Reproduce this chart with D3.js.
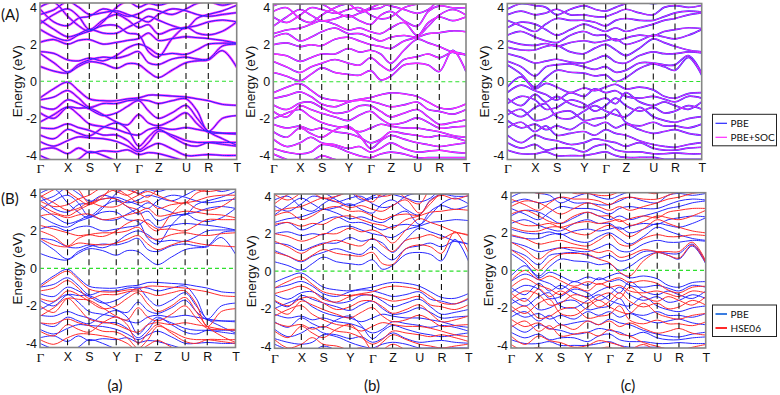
<!DOCTYPE html>
<html>
<head>
<meta charset="utf-8">
<script src="https://cdn.jsdelivr.net/npm/d3@7"></script>
<style>
body { margin: 0; background: #fff; }
</style>
</head>
<body>
<script>
// high symmetry path
var kLabels = ["Γ", "X", "S", "Y", "Γ", "Z", "U", "R", "T"];
var kDistA = [0, 27.7, 49.3, 76.7, 98.7, 118.3, 146, 168.3, 196.7];
var kDistB = [0, 26.7, 48.4, 75, 97.4, 117.4, 144, 166, 192.7];
var kDistC = [0, 27.7, 49.4, 76.7, 98.4, 118.4, 146, 167.7, 194.4];
var yTicks = [-4, -2, 0, 2, 4];

// bands, eV, sampled at each point of the path and half way between
// order: G . X . S . Y . G . Z . U . R . T
var pbeA = [
  [-0.9,-0.4,-0.05,-0.5,-0.95,-1.05,-1.05,-0.95,-0.9,-0.75,-0.75,-0.8,-0.85,-0.95,-1.05,-1.25,-1.3],
  [-1.0,-0.85,-0.5,-0.9,-1.4,-1.2,-1.2,-1.05,-1.0,-1.05,-1.2,-1.05,-0.95,-1.6,-2.7,-2.0,-1.85],
  [-1.35,-1.5,-1.0,-1.2,-1.5,-1.85,-1.7,-1.35,-1.05,-1.6,-2.0,-1.7,-1.3,-2.0,-2.7,-3.1,-3.45],
  [-1.7,-2.0,-1.4,-1.45,-1.45,-1.8,-2.2,-2.35,-1.8,-2.25,-2.4,-2.1,-1.7,-2.3,-2.75,-2.8,-2.8],
  [-2.2,-1.8,-1.4,-1.8,-2.3,-2.45,-2.6,-2.8,-2.9,-2.6,-2.5,-2.6,-2.5,-2.6,-2.7,-2.8,-2.85],
  [-2.5,-2.55,-2.3,-2.5,-2.65,-2.9,-2.9,-3.2,-3.7,-3.3,-2.7,-2.9,-3.2,-3.3,-3.3,-3.4,-3.5],
  [-2.9,-3.1,-2.6,-2.8,-2.95,-2.5,-2.25,-2.6,-3.5,-3.0,-2.6,-3.0,-3.4,-3.5,-3.3,-3.3,-3.3],
  [-3.25,-3.5,-3.2,-3.0,-3.05,-3.1,-3.25,-3.5,-3.8,-3.55,-3.35,-3.65,-4.0,-4.0,-3.95,-4.0,-4.0],
  [-3.7,-3.6,-3.9,-3.6,-3.85,-3.75,-3.8,-3.7,-3.95,-3.85,-3.9,-4.1,-4.3,-4.3,-4.3,-4.3,-4.3],
  [-4.0,-4.3,-4.4,-4.2,-3.8,-4.0,-4.3,-4.4,-4.3,-4.4,-4.4,-4.5,-4.5,-4.5,-4.5,-4.5,-4.5],
  [0.8,0.55,0.45,0.8,1.05,0.95,0.7,0.95,0.9,0.5,0.2,0.6,1.0,1.1,1.15,1.65,0.75],
  [1.5,1.0,0.5,0.9,1.15,1.3,1.25,1.4,1.6,1.0,0.9,1.2,1.3,1.2,1.2,1.9,2.0],
  [1.6,1.5,1.15,1.1,1.25,1.1,1.4,1.8,2.0,1.8,1.45,1.5,1.45,1.7,2.0,2.05,2.05],
  [2.1,2.25,2.0,2.2,2.25,2.0,2.1,2.2,2.3,2.6,2.2,2.3,2.4,2.35,2.3,2.2,2.05],
  [2.8,2.4,2.2,2.5,2.7,3.0,3.0,2.6,2.5,1.6,1.3,2.3,2.9,2.6,2.5,2.7,3.2],
  [3.1,3.6,3.9,3.5,2.8,3.3,3.6,3.3,2.9,3.05,2.55,2.8,2.9,3.0,3.2,3.3,3.2],
  [3.3,2.8,2.4,2.55,2.8,2.6,2.6,2.9,3.2,3.5,3.3,3.0,2.85,3.4,3.6,3.8,4.1],
  [3.6,3.85,4.3,4.0,3.6,3.7,3.8,3.6,3.4,3.2,3.6,3.9,3.8,3.6,3.5,3.6,3.7],
  [3.9,3.2,3.0,3.4,3.5,3.9,3.7,3.5,3.65,3.9,3.8,3.6,3.9,4.2,4.3,4.1,4.3],
  [4.0,4.25,3.5,3.0,2.7,3.2,4.0,4.3,4.0,4.2,4.1,4.3,4.5,4.5,4.5,4.4,4.5]
];
var hseA = [
  [-1.0,-0.5,-0.15,-0.6,-1.1,-1.25,-1.25,-1.15,-1.1,-0.95,-0.95,-1.0,-1.05,-1.15,-1.25,-1.45,-1.5],
  [-1.2,-1.05,-0.65,-1.05,-1.6,-1.4,-1.4,-1.25,-1.2,-1.3,-1.45,-1.3,-1.2,-1.9,-3.1,-2.3,-2.15],
  [-1.6,-1.75,-1.2,-1.4,-1.75,-2.15,-2.0,-1.6,-1.3,-1.9,-2.3,-2.0,-1.55,-2.3,-3.1,-3.6,-3.95],
  [-2.0,-2.35,-1.6,-1.65,-1.7,-2.1,-2.55,-2.75,-2.1,-2.6,-2.8,-2.45,-2.0,-2.65,-3.2,-3.25,-3.25],
  [-2.55,-2.1,-1.6,-2.1,-2.7,-2.85,-3.0,-3.25,-3.4,-3.0,-2.9,-3.0,-2.9,-3.0,-3.1,-3.25,-3.3],
  [-2.9,-2.95,-2.7,-2.9,-3.05,-3.35,-3.4,-3.7,-4.25,-3.8,-3.1,-3.35,-3.7,-3.8,-3.8,-3.9,-4.0],
  [-3.35,-3.6,-3.0,-3.25,-3.4,-2.9,-2.6,-3.0,-4.0,-3.45,-3.0,-3.45,-3.9,-4.0,-3.8,-3.8,-3.8],
  [-3.8,-4.05,-3.7,-3.5,-3.5,-3.6,-3.75,-4.0,-4.4,-4.1,-3.85,-4.2,-4.6,-4.6,-4.5,-4.6,-4.6],
  [1.6,1.25,1.15,1.35,1.3,1.25,1.35,1.55,1.75,1.3,1.0,1.25,1.45,1.35,1.25,1.2,1.15],
  [2.0,1.7,1.2,1.6,1.8,1.9,1.9,2.0,2.2,1.7,1.55,1.8,1.9,1.8,1.75,1.85,1.9],
  [2.3,2.1,1.9,1.75,1.8,1.7,2.0,2.4,2.6,2.4,2.1,2.1,2.0,2.3,2.6,2.6,2.6],
  [2.8,2.9,2.7,2.85,2.9,2.6,2.7,2.85,3.0,3.2,2.8,2.9,3.05,3.0,2.9,2.85,2.7],
  [3.4,3.0,2.8,3.1,3.4,3.7,3.7,3.3,3.1,2.3,2.0,2.9,3.5,3.2,3.1,3.3,3.8],
  [3.8,4.2,4.5,4.2,3.5,3.9,4.2,3.9,3.5,3.6,3.2,3.4,3.5,3.6,3.8,3.9,3.9],
  [3.9,3.5,3.1,3.2,3.5,3.3,3.3,3.6,3.9,4.1,3.9,3.6,3.5,4.0,4.2,4.4,4.6],
  [4.2,4.4,4.8,4.6,4.2,4.3,4.4,4.2,4.0,3.8,4.2,4.5,4.4,4.2,4.1,4.2,4.3],
  [3.6,3.3,3.4,3.7,3.9,4.3,4.1,3.9,4.2,4.4,4.4,4.2,4.5,4.7,4.8,4.7,4.8],
  [4.5,4.7,4.1,3.7,3.4,3.8,4.6,4.8,4.5,4.7,4.6,4.8,5.0,5.0,5.0,5.0,5.0]
];
var pbeB = [
  [-0.6,-0.3,-0.1,-0.45,-0.85,-1.0,-1.05,-0.95,-0.85,-0.7,-0.6,-0.65,-0.8,-1.1,-1.4,-1.45,-1.2],
  [-0.9,-0.75,-0.55,-0.8,-1.2,-1.35,-1.1,-1.0,-1.05,-1.2,-1.35,-1.25,-1.1,-1.5,-1.6,-1.75,-1.5],
  [-1.25,-1.5,-1.15,-1.1,-1.4,-1.7,-1.6,-1.3,-1.3,-1.6,-1.9,-1.7,-1.5,-1.9,-2.3,-2.2,-2.05],
  [-1.6,-1.9,-1.3,-1.5,-1.7,-1.9,-2.1,-1.8,-1.6,-2.0,-2.3,-2.2,-1.95,-2.2,-2.5,-2.45,-2.4],
  [-2.0,-1.7,-1.5,-1.9,-2.2,-2.4,-2.5,-2.7,-2.5,-2.3,-2.4,-2.5,-2.5,-2.6,-2.7,-2.9,-3.0],
  [-2.3,-2.5,-2.4,-2.6,-2.5,-2.7,-2.8,-3.0,-3.3,-3.1,-2.7,-2.8,-2.9,-3.0,-2.9,-3.0,-3.2],
  [-2.7,-3.0,-2.5,-2.8,-3.0,-2.6,-2.4,-2.9,-3.6,-3.2,-2.9,-3.1,-3.3,-3.4,-3.5,-3.4,-3.3],
  [-3.1,-3.5,-3.3,-3.0,-3.3,-3.4,-3.6,-3.5,-3.8,-3.6,-3.3,-3.6,-3.8,-3.75,-3.7,-3.8,-3.85],
  [-3.6,-3.8,-3.9,-3.8,-3.4,-3.5,-3.8,-4.0,-4.1,-3.9,-3.8,-3.9,-4.1,-4.1,-4.1,-4.1,-4.1],
  [-3.9,-4.2,-4.4,-4.3,-4.0,-4.2,-4.3,-4.3,-4.4,-4.4,-4.3,-4.4,-4.5,-4.5,-4.5,-4.5,-4.5],
  [0.5,0.3,0.05,0.4,0.75,0.5,0.4,0.35,0.6,0.1,0.3,0.9,1.0,0.9,0.55,1.7,0.55],
  [1.1,0.8,0.5,0.8,1.0,1.2,1.0,0.9,1.3,0.9,0.6,1.2,1.35,1.5,1.3,1.6,1.45],
  [1.5,1.4,1.1,1.3,1.5,1.5,1.8,1.6,1.7,1.5,1.0,1.7,2.3,2.1,1.9,1.6,1.45],
  [2.0,2.1,1.9,2.0,1.95,2.3,2.4,2.2,2.0,1.9,1.8,2.2,2.4,2.6,2.65,2.75,2.7],
  [2.4,2.6,2.2,2.4,2.7,2.9,2.6,2.6,2.4,2.2,2.4,2.5,2.45,3.2,3.5,3.3,3.5],
  [2.6,2.8,2.9,3.1,3.3,3.1,2.8,2.9,2.7,2.6,2.9,3.2,2.5,3.0,3.6,3.9,3.6],
  [3.0,3.5,3.9,3.6,3.3,3.4,3.6,3.3,3.1,3.6,3.8,3.3,3.0,3.8,4.1,4.0,4.0],
  [3.5,3.2,3.6,4.0,3.9,3.7,3.9,4.0,3.6,3.4,3.5,4.0,4.2,4.3,4.3,4.3,4.3],
  [3.8,4.0,3.4,3.2,3.6,4.0,4.2,3.8,4.0,4.2,4.1,3.9,3.7,3.9,4.4,4.5,4.4],
  [4.1,4.3,4.2,4.3,4.2,3.8,3.5,3.7,3.9,4.0,4.3,4.4,4.5,4.6,4.6,4.6,4.6]
];
var hseB = [
  [-0.9,-0.55,-0.3,-0.7,-1.1,-1.25,-1.3,-1.2,-1.1,-0.9,-0.8,-0.85,-1.0,-1.35,-1.7,-1.75,-1.45],
  [-1.2,-1.0,-0.8,-1.05,-1.5,-1.65,-1.35,-1.25,-1.3,-1.45,-1.6,-1.5,-1.35,-1.8,-1.9,-2.05,-1.8],
  [-1.55,-1.85,-1.45,-1.4,-1.7,-2.05,-1.9,-1.6,-1.6,-1.9,-2.25,-2.05,-1.8,-2.25,-2.7,-2.6,-2.4],
  [-1.95,-2.3,-1.6,-1.8,-2.05,-2.3,-2.5,-2.2,-1.95,-2.4,-2.7,-2.6,-2.35,-2.6,-2.95,-2.9,-2.85],
  [-2.4,-2.05,-1.85,-2.3,-2.6,-2.85,-2.95,-3.2,-2.95,-2.75,-2.85,-2.95,-2.95,-3.05,-3.2,-3.4,-3.5],
  [-2.75,-2.95,-2.85,-3.1,-2.95,-3.2,-3.3,-3.55,-3.9,-3.65,-3.2,-3.3,-3.4,-3.5,-3.4,-3.55,-3.75],
  [-3.2,-3.55,-2.95,-3.3,-3.55,-3.1,-2.85,-3.4,-4.2,-3.8,-3.4,-3.65,-3.9,-4.0,-4.1,-4.0,-3.9],
  [-3.65,-4.1,-3.9,-3.55,-3.9,-4.0,-4.2,-4.1,-4.4,-4.2,-3.9,-4.2,-4.4,-4.4,-4.3,-4.4,-4.5],
  [1.0,0.8,0.55,0.85,1.15,0.95,0.85,0.8,1.0,0.4,0.35,1.2,1.4,1.3,0.95,2.1,1.0],
  [1.6,1.3,0.95,1.25,1.45,1.65,1.45,1.35,1.75,1.35,1.05,1.65,1.8,1.95,1.75,2.05,1.9],
  [2.0,1.85,1.6,1.75,2.0,2.0,2.3,2.1,2.2,1.95,1.5,2.2,2.8,2.6,2.4,2.1,1.95],
  [2.5,2.6,2.4,2.55,2.5,2.85,2.95,2.75,2.55,2.45,2.3,2.75,2.95,3.15,3.2,3.3,3.25],
  [2.95,3.15,2.75,2.95,3.3,3.45,3.2,3.2,2.95,2.75,2.95,3.05,3.0,3.75,4.05,3.85,4.05],
  [3.2,3.35,3.45,3.7,3.9,3.7,3.4,3.5,3.3,3.2,3.5,3.8,3.1,3.6,4.2,4.5,4.2],
  [3.6,4.1,4.5,4.2,3.9,4.0,4.2,3.9,3.7,4.2,4.4,3.9,3.6,4.4,4.7,4.6,4.6],
  [4.1,3.8,4.2,4.6,4.5,4.3,4.5,4.6,4.2,4.0,4.1,4.6,4.8,4.9,4.9,4.9,4.9]
];
var pbeC = [
  [-0.3,0.25,-0.4,-0.1,-0.3,-0.6,-0.35,-0.5,-0.3,-0.15,-0.4,-0.3,-0.45,-0.8,-0.9,-0.65,-0.6],
  [-0.6,-0.2,-0.5,-0.7,-1.0,-0.6,-0.8,-0.4,-0.6,-0.5,-0.8,-0.9,-0.8,-0.95,-1.1,-0.8,-0.9],
  [-0.9,-1.3,-0.7,-1.1,-0.8,-1.2,-1.4,-1.1,-0.9,-1.2,-0.6,-1.1,-1.3,-1.1,-1.3,-1.5,-1.1],
  [-1.2,-0.8,-1.0,-1.5,-1.4,-1.0,-1.2,-1.6,-1.3,-0.9,-1.3,-1.6,-1.4,-1.7,-1.6,-1.3,-1.5],
  [-1.5,-1.9,-1.4,-1.2,-1.9,-2.0,-1.6,-1.3,-1.6,-1.8,-1.9,-1.4,-1.9,-2.1,-2.2,-2.0,-1.9],
  [-1.8,-1.5,-2.1,-2.0,-1.7,-1.6,-2.1,-2.0,-1.9,-1.5,-2.2,-2.4,-2.2,-2.4,-2.4,-2.5,-2.3],
  [-2.1,-2.5,-2.3,-2.6,-2.4,-2.6,-2.2,-2.4,-2.2,-2.5,-2.3,-2.6,-2.8,-2.7,-2.6,-2.8,-2.9],
  [-2.5,-2.2,-2.7,-2.4,-2.9,-2.8,-2.7,-2.9,-2.6,-2.8,-2.9,-3.2,-3.4,-3.5,-3.55,-3.4,-3.3],
  [-2.9,-3.3,-2.9,-3.1,-3.2,-3.4,-3.3,-3.1,-3.2,-3.3,-3.5,-3.3,-3.6,-3.7,-3.7,-3.6,-3.55],
  [-3.3,-3.6,-3.4,-3.7,-3.6,-3.6,-3.8,-3.5,-3.4,-3.7,-3.8,-3.8,-3.9,-3.9,-3.85,-3.9,-3.9],
  [-3.7,-3.9,-3.9,-3.8,-4.0,-4.0,-4.0,-3.9,-3.8,-4.0,-4.1,-4.1,-4.1,-4.2,-4.2,-4.2,-4.2],
  [0.9,0.4,-0.3,0.2,0.6,0.5,0.45,0.3,0.35,0.0,0.2,0.7,0.95,0.8,0.6,1.3,0.35],
  [1.1,0.8,0.3,0.8,0.9,0.95,0.8,0.65,0.8,0.5,0.6,1.0,1.0,0.9,0.9,1.4,0.45],
  [1.5,1.3,1.0,1.1,1.2,1.05,1.0,1.2,1.4,1.05,1.0,1.4,1.6,1.5,1.5,1.6,1.55],
  [1.85,1.7,1.7,1.9,1.95,1.6,1.5,1.8,2.0,1.7,1.4,1.8,2.3,2.1,1.9,1.7,1.6],
  [2.2,2.0,1.95,2.05,1.9,2.1,2.2,2.1,2.2,2.3,2.0,2.2,2.5,2.4,2.3,2.5,2.8],
  [2.5,2.7,2.4,2.2,2.1,2.5,2.7,2.5,2.5,2.2,2.35,2.5,2.45,2.7,2.8,2.9,2.85],
  [2.9,3.2,3.1,2.8,2.5,2.8,3.1,2.9,2.7,2.9,2.7,2.9,3.1,3.3,3.4,3.6,3.7],
  [3.3,3.0,2.7,3.1,3.4,3.3,3.3,3.2,3.0,3.3,3.4,3.3,3.3,3.5,3.7,3.8,3.75],
  [3.6,3.8,3.6,3.7,3.9,3.6,3.6,3.5,3.5,3.7,3.9,3.7,3.6,4.0,4.1,4.0,4.1],
  [3.9,4.2,4.1,4.0,3.6,3.9,4.1,3.9,3.8,4.0,4.2,4.3,4.2,4.3,4.4,4.3,4.4]
];
var hseC = [
  [-0.55,0.0,-0.5,-0.3,-0.55,-0.85,-0.6,-0.75,-0.55,-0.4,-0.65,-0.55,-0.7,-1.05,-1.2,-0.9,-0.85],
  [-0.9,-0.45,-0.8,-1.0,-1.3,-0.9,-1.1,-0.7,-0.9,-0.8,-1.1,-1.2,-1.1,-1.25,-1.4,-1.1,-1.2],
  [-1.2,-1.65,-1.0,-1.4,-1.1,-1.5,-1.75,-1.4,-1.2,-1.5,-0.9,-1.4,-1.65,-1.4,-1.6,-1.85,-1.4],
  [-1.55,-1.1,-1.3,-1.85,-1.75,-1.3,-1.5,-1.95,-1.65,-1.2,-1.65,-1.95,-1.75,-2.05,-1.95,-1.6,-1.85],
  [-1.9,-2.3,-1.75,-1.55,-2.3,-2.4,-1.95,-1.6,-1.95,-2.2,-2.3,-1.75,-2.3,-2.5,-2.6,-2.4,-2.3],
  [-2.25,-1.9,-2.55,-2.45,-2.1,-2.0,-2.55,-2.45,-2.35,-1.9,-2.65,-2.85,-2.65,-2.85,-2.85,-2.95,-2.75],
  [-2.6,-3.0,-2.8,-3.15,-2.9,-3.15,-2.7,-2.9,-2.7,-3.0,-2.8,-3.1,-3.35,-3.25,-3.1,-3.35,-3.45],
  [-3.05,-2.7,-3.25,-2.95,-3.5,-3.4,-3.3,-3.5,-3.15,-3.4,-3.5,-3.85,-4.05,-4.2,-4.25,-4.1,-3.95],
  [-3.5,-3.95,-3.5,-3.75,-3.85,-4.1,-4.0,-3.75,-3.85,-4.0,-4.2,-3.95,-4.3,-4.4,-4.4,-4.3,-4.25],
  [-3.95,-4.3,-4.1,-4.4,-4.3,-4.3,-4.5,-4.2,-4.1,-4.4,-4.5,-4.5,-4.6,-4.6,-4.6,-4.6,-4.6],
  [1.1,0.6,0.0,0.5,0.85,0.9,0.85,0.6,0.4,-0.1,-0.3,0.5,0.95,0.8,0.65,1.35,0.4],
  [1.5,1.1,0.6,1.0,1.2,1.2,1.1,0.95,1.05,0.7,0.8,1.1,1.0,1.0,1.0,1.5,0.5],
  [1.9,1.7,1.4,1.5,1.6,1.4,1.3,1.6,1.9,1.4,1.3,1.7,1.9,1.8,1.8,1.9,1.85],
  [2.3,2.1,2.1,2.3,2.3,2.0,1.9,2.2,2.4,2.1,1.8,2.2,2.7,2.5,2.3,2.1,2.0],
  [2.7,2.4,2.4,2.5,2.3,2.5,2.6,2.5,2.6,2.7,2.4,2.6,2.9,2.8,2.7,2.9,3.2],
  [3.0,3.2,2.9,2.6,2.5,2.9,3.1,2.9,2.9,2.6,2.75,2.9,2.8,3.1,3.2,3.3,3.3],
  [3.4,3.7,3.6,3.3,3.0,3.3,3.6,3.4,3.2,3.4,3.2,3.4,3.6,3.8,3.9,4.1,4.2],
  [3.8,3.5,3.2,3.6,3.9,3.8,3.8,3.7,3.5,3.8,3.9,3.8,3.8,4.0,4.2,4.3,4.25],
  [4.1,4.3,4.1,4.2,4.4,4.1,4.1,4.0,4.0,4.2,4.4,4.2,4.1,4.5,4.6,4.5,4.6]
];
// SOC bands sit on top of the PBE ones at this resolution
var socA = pbeA, socB = pbeB, socC = pbeC;

var legendTop = ["PBE", "PBE+SOC"];
var legendBottom = ["PBE", "HSE06"];
var panelNames = ["(a)", "(b)", "(c)"];

var blue = "#2727ff", magenta = "#ff2cff", red = "#ff2a2a";

var svg = d3.select("body").append("svg")
    .attr("width", 780)
    .attr("height", 395);

function kGrid(kd) {
  var g = [];
  for (var i = 0; i < kd.length - 1; i++) {
    g.push(kd[i]);
    g.push((kd[i] + kd[i + 1]) / 2);
  }
  g.push(kd[kd.length - 1]);
  return g;
}

var panels = [
  {id: "Aa", x0: 40, x1: 236.7, y0: 3, y1: 159.5, e: 4.22, kd: kDistA, pad: 4,
   sets: [{b: socA, c: magenta, w: 2.3}, {b: pbeA, c: blue, w: 1}]},
  {id: "Ab", x0: 273.3, x1: 466, y0: 4, y1: 159.5, e: 4.2, kd: kDistB, pad: 4,
   sets: [{b: pbeB, c: blue, w: 1.6}, {b: socB, c: magenta, w: 1.3}]},
  {id: "Ac", x0: 507.3, x1: 701.7, y0: 3.5, y1: 159.5, e: 4.21, kd: kDistC, pad: 4,
   sets: [{b: pbeC, c: blue, w: 1.7}, {b: socC, c: magenta, w: 0.9}]},
  {id: "Ba", x0: 40, x1: 235.5, y0: 189.3, y1: 347.5, e: 4.22, kd: kDistA, pad: 5,
   sets: [{b: pbeA, c: blue, w: 1}, {b: hseA, c: red, w: 1}]},
  {id: "Bb", x0: 274.5, x1: 468.3, y0: 194, y1: 348.3, e: 4.12, kd: kDistB, pad: 5,
   sets: [{b: pbeB, c: blue, w: 1}, {b: hseB, c: red, w: 1}]},
  {id: "Bc", x0: 511, x1: 705.7, y0: 192.7, y1: 348, e: 4.14, kd: kDistC, pad: 5,
   sets: [{b: pbeC, c: blue, w: 1}, {b: hseC, c: red, w: 1}]}
];

panels.forEach(function(p) {
  var x = d3.scaleLinear().domain([0, p.kd[p.kd.length - 1]]).range([p.x0, p.x1]);
  var y = d3.scaleLinear().domain([-p.e, p.e]).range([p.y1, p.y0]);
  var grid = kGrid(p.kd);
  var g = svg.append("g");

  g.append("clipPath").attr("id", "clip" + p.id)
    .append("rect")
    .attr("x", p.x0).attr("y", p.y0)
    .attr("width", p.x1 - p.x0).attr("height", p.y1 - p.y0);

  var plot = g.append("g").attr("clip-path", "url(#clip" + p.id + ")");

  var line = d3.line()
    .x(function(d, i) { return x(grid[i]); })
    .y(function(d) { return y(d); })
    .curve(d3.curveCatmullRom.alpha(0.5));

  p.sets.forEach(function(s) {
    plot.append("g").selectAll("path")
      .data(s.b)
      .enter().append("path")
      .attr("d", line)
      .attr("fill", "none")
      .attr("stroke", s.c)
      .attr("stroke-width", s.w);
  });

  // fermi level
  plot.append("line")
    .attr("x1", p.x0).attr("x2", p.x1)
    .attr("y1", y(0)).attr("y2", y(0))
    .attr("stroke", "#2ee02e").attr("stroke-width", 1.1)
    .attr("stroke-dasharray", "4,3");

  plot.selectAll("line.k")
    .data(p.kd.slice(1, -1))
    .enter().append("line")
    .attr("class", "k")
    .attr("x1", function(d) { return x(d); })
    .attr("x2", function(d) { return x(d); })
    .attr("y1", p.y0).attr("y2", p.y1)
    .attr("stroke", "#111").attr("stroke-width", 1.1)
    .attr("stroke-dasharray", "6,4");

  g.append("rect")
    .attr("x", p.x0).attr("y", p.y0)
    .attr("width", p.x1 - p.x0).attr("height", p.y1 - p.y0)
    .attr("fill", "none").attr("stroke", "#858585").attr("stroke-width", 1.6);

  var yAxis = g.append("g")
    .attr("transform", "translate(" + p.x0 + ",0)")
    .call(d3.axisLeft(y).tickValues(yTicks).tickSize(0).tickPadding(3)
      .tickFormat(function(d) { return String(d); }));
  yAxis.select(".domain").remove();
  yAxis.selectAll("text")
    .style("font-family", "'Liberation Sans', Arial, sans-serif")
    .style("font-size", "12.5px").attr("fill", "#111");

  var xAxis = g.append("g")
    .attr("transform", "translate(0," + p.y1 + ")")
    .call(d3.axisBottom(x).tickValues(p.kd).tickSize(0).tickPadding(p.pad)
      .tickFormat(function(d, i) { return kLabels[i]; }));
  xAxis.select(".domain").remove();
  xAxis.selectAll("text")
    .style("font-family", function(d, i) {
      return kLabels[i] === "Γ" ? "'Liberation Serif', 'DejaVu Serif', serif" : "'Liberation Sans', Arial, sans-serif";
    })
    .style("font-size", function(d, i) { return kLabels[i] === "Γ" ? "13.5px" : "12.5px"; })
    .attr("fill", "#111");

  g.append("text")
    .attr("transform", "translate(" + (p.x0 - 23) + "," + ((p.y0 + p.y1) / 2) + ") rotate(-90)")
    .attr("text-anchor", "middle")
    .attr("dy", "0.35em")
    .style("font-family", "'Liberation Sans', Arial, sans-serif")
    .style("font-size", "13.5px")
    .attr("fill", "#111")
    .text("Energy (eV)");
});

// row letters
svg.selectAll("text.row")
  .data(["(A)", "(B)"])
  .enter().append("text")
  .attr("class", "row")
  .attr("x", 1)
  .attr("y", function(d, i) { return [20, 204][i]; })
  .style("font-family", "Lato, 'Open Sans', sans-serif")
  .style("font-size", "15px")
  .attr("fill", "#111")
  .text(function(d) { return d; });

svg.selectAll("text.pname")
  .data(panelNames)
  .enter().append("text")
  .attr("class", "pname")
  .attr("x", function(d, i) { return [115, 372, 628][i]; })
  .attr("y", 391)
  .attr("text-anchor", "middle")
  .style("font-family", "Lato, 'Open Sans', sans-serif")
  .style("font-size", "15px")
  .attr("fill", "#111")
  .text(function(d) { return d; });

function legend(names, colors, top, lw) {
  var lg = svg.append("g").attr("transform", "translate(712.5," + top + ")");
  lg.append("rect").attr("width", 64).attr("height", 31.5)
    .attr("fill", "#fff").attr("stroke", "#222").attr("stroke-width", 1);
  var row = lg.selectAll("g").data(names).enter().append("g")
    .attr("transform", function(d, i) { return "translate(0," + (9 + i * 14) + ")"; });
  row.append("line")
    .attr("x1", 3).attr("x2", 14.5)
    .attr("stroke", function(d, i) { return colors[i]; })
    .attr("stroke-width", lw);
  row.append("text")
    .attr("x", 18).attr("dy", "0.35em")
    .style("font-family", "Lato, 'Open Sans', sans-serif")
    .style("font-size", "10px")
    .attr("fill", "#111")
    .text(function(d) { return d; });
}
legend(legendTop, [blue, magenta], 114.3, 1.2);
legend(legendBottom, ["#3a7de0", red], 305, 2);
</script>
</body>
</html>
